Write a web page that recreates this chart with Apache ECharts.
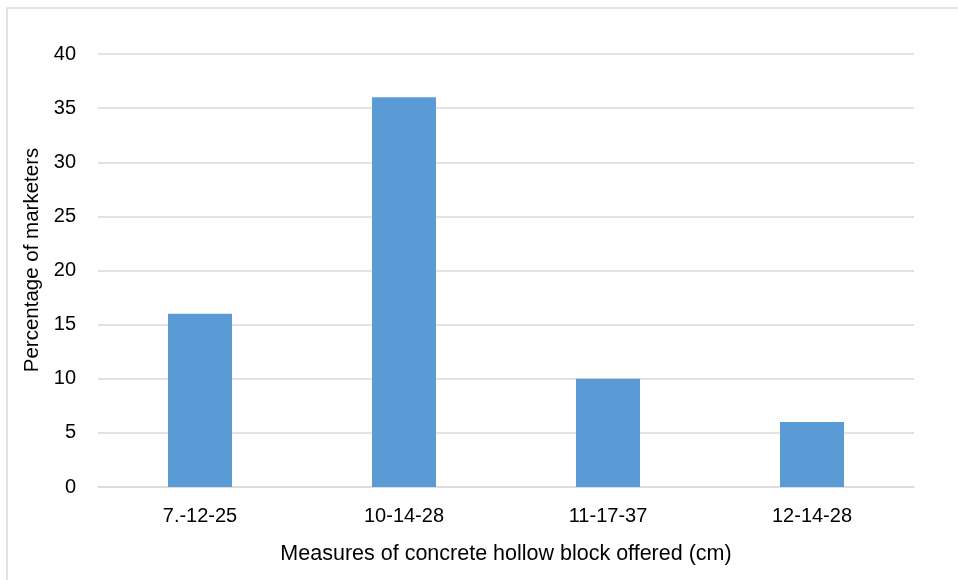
<!DOCTYPE html>
<html>
<head>
<meta charset="utf-8">
<script src="https://cdn.jsdelivr.net/npm/echarts@6/dist/echarts.min.js"></script>
<style>
  html, body { margin: 0; padding: 0; background: #ffffff; }
  #chart { width: 958px; height: 580px; }
</style>
</head>
<body>
<div id="chart"></div>
<script>
// Block sizes and share of marketers offering each
const categories = ['7.-12-25', '10-14-28', '11-17-37', '12-14-28'];
const percentages = [16, 36, 10, 6];
const yTicks = { min: 0, max: 40, interval: 5 };

const font = "'Liberation Sans', Arial, sans-serif";
const gridColor = '#d9d9d9';

const chart = echarts.init(document.getElementById('chart'), null, { renderer: 'canvas' });
chart.setOption({
  animation: false,
  backgroundColor: '#ffffff',
  graphic: [{
    type: 'rect',
    shape: { x: 7, y: 8, width: 1200, height: 1200 },
    style: { fill: 'none', stroke: gridColor, lineWidth: 1.5 },
    silent: true
  }],
  grid: { left: 98, right: 44, top: 54, bottom: 93, containLabel: false },
  xAxis: {
    type: 'category',
    data: categories,
    name: 'Measures of concrete hollow block offered (cm)',
    nameLocation: 'middle',
    nameGap: 56,
    nameTextStyle: { fontFamily: font, fontSize: 21.5, color: '#000000' },
    axisLine: { lineStyle: { color: gridColor, width: 1.5 } },
    axisTick: { show: false },
    axisLabel: { fontFamily: font, fontSize: 20, color: '#000000', margin: 19 }
  },
  yAxis: {
    type: 'value',
    min: yTicks.min,
    max: yTicks.max,
    interval: yTicks.interval,
    name: 'Percentage of marketers',
    nameLocation: 'middle',
    nameGap: 55,
    nameTextStyle: { fontFamily: font, fontSize: 20.5, color: '#000000', padding: [0, 0, 0, 21] },
    axisLine: { show: false },
    axisTick: { show: false },
    axisLabel: { fontFamily: font, fontSize: 20, color: '#000000', margin: 22 },
    splitLine: { lineStyle: { color: gridColor, width: 1.5 } }
  },
  series: [{
    type: 'bar',
    data: percentages,
    barWidth: 64,
    itemStyle: { color: '#5b9bd5' }
  }]
});
</script>
</body>
</html>
